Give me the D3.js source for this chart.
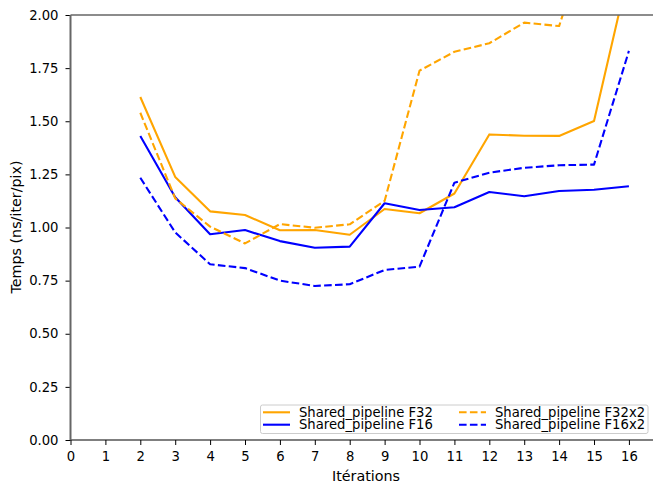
<!DOCTYPE html>
<html><head><meta charset="utf-8">
<script src="https://cdn.jsdelivr.net/npm/d3@7"></script>
<style>body{margin:0;background:#fff}svg{display:block}text{font-family:"DejaVu Sans",sans-serif}</style>
</head><body>
<script>
const iterations = [2,3,4,5,6,7,8,9,10,11,12,13,14,15,16];
const f32   = [1.614,1.238,1.076,1.059,0.987,0.988,0.966,1.087,1.067,1.160,1.438,1.432,1.431,1.501,2.21];
const f16   = [1.431,1.142,0.968,0.988,0.936,0.905,0.910,1.114,1.082,1.095,1.167,1.147,1.172,1.178,1.194];
const f32x2 = [1.540,1.137,1.004,0.925,1.016,0.999,1.015,1.125,1.738,1.827,1.867,1.964,1.948,2.45,2.60];
const f16x2 = [1.234,0.977,0.827,0.809,0.750,0.725,0.733,0.800,0.816,1.211,1.258,1.281,1.293,1.296,1.831];
const xTicks = [0,1,2,3,4,5,6,7,8,9,10,11,12,13,14,15,16];
const yTicks = [0,0.25,0.5,0.75,1.0,1.25,1.5,1.75,2.0];
const seriesNames = ["Shared_pipeline F32","Shared_pipeline F16","Shared_pipeline F32x2","Shared_pipeline F16x2"];
const series = [
  {name: seriesNames[0], values: f32, color: "#FFA500", dash: null},
  {name: seriesNames[1], values: f16, color: "#0000FF", dash: null},
  {name: seriesNames[2], values: f32x2, color: "#FFA500", dash: "7.6,3.3"},
  {name: seriesNames[3], values: f16x2, color: "#0000FF", dash: "7.6,3.3"}
];

(function(){
const W = 653, H = 487;
const mL = 70.5, mT = 15, mB = 440, mR = 653;
const x = d3.scaleLinear().domain([0, 16.69]).range([mL, mR]);
const y = d3.scaleLinear().domain([0, 2]).range([mB, mT]);

const svg = d3.select("body").append("svg").attr("width", W).attr("height", H);
const fs = "13.2px";

svg.append("defs").append("clipPath").attr("id","clip")
  .append("rect").attr("x", mL).attr("y", mT).attr("width", mR-mL).attr("height", mB-mT);

const line = d3.line().x((d,i)=>x(iterations[i])).y(d=>y(d));
const g = svg.append("g").attr("clip-path","url(#clip)");
series.forEach(s => {
  g.append("path").datum(s.values).attr("d", line)
    .attr("fill","none").attr("stroke", s.color).attr("stroke-width", 2.1)
    .attr("stroke-dasharray", s.dash).attr("stroke-linejoin","round");
});

const xAxis = svg.append("g").attr("transform",`translate(0,${mB})`)
  .call(d3.axisBottom(x).tickValues(xTicks).tickFormat(d3.format("d")).tickSize(5).tickPadding(6.5));
const yAxis = svg.append("g").attr("transform",`translate(${mL},0)`)
  .call(d3.axisLeft(y).tickValues(yTicks).tickFormat(d3.format(".2f")).tickSize(5).tickPadding(7));
[xAxis,yAxis].forEach(a=>{
  a.selectAll("text").attr("font-size",fs).attr("fill","#000").attr("font-family","DejaVu Sans");
  a.selectAll(".tick line").attr("stroke","#000").attr("stroke-width",1);
  a.select(".domain").remove();
});
svg.append("line").attr("x1",mL).attr("x2",mR).attr("y1",mB).attr("y2",mB).attr("stroke","#000").attr("stroke-width",1.1);
svg.append("line").attr("x1",mL).attr("x2",mR).attr("y1",mT).attr("y2",mT).attr("stroke","#666").attr("stroke-width",1.5);
svg.append("line").attr("x1",mL).attr("x2",mL).attr("y1",mT).attr("y2",mB).attr("stroke","#666").attr("stroke-width",2);

svg.append("text").attr("x", 366).attr("y", 480.5).attr("text-anchor","middle").attr("font-size","14.3px").text("Itérations");
svg.append("text").attr("transform","translate(21,227) rotate(-90)").attr("text-anchor","middle").attr("font-size","14.3px").text("Temps (ns/iter/pix)");

const lg = svg.append("g");
lg.append("rect").attr("x",260.5).attr("y",405).attr("width",387.5).attr("height",28.5).attr("rx",2)
  .attr("fill","#fff").attr("fill-opacity",0.8).attr("stroke","#ccc").attr("stroke-width",1);
const pos = [[263,412.3],[263,424.7],[459,412.3],[459,424.7]];
series.forEach((s,i)=>{
  const [lx,ly] = pos[i];
  lg.append("line").attr("x1",lx).attr("x2",lx+27).attr("y1",ly).attr("y2",ly)
    .attr("stroke",s.color).attr("stroke-width",2.1).attr("stroke-dasharray",s.dash);
  lg.append("text").attr("x",lx+36).attr("y",ly).attr("dy","0.35em").attr("font-size",fs).text(s.name);
});
})();
</script>
</body></html>
